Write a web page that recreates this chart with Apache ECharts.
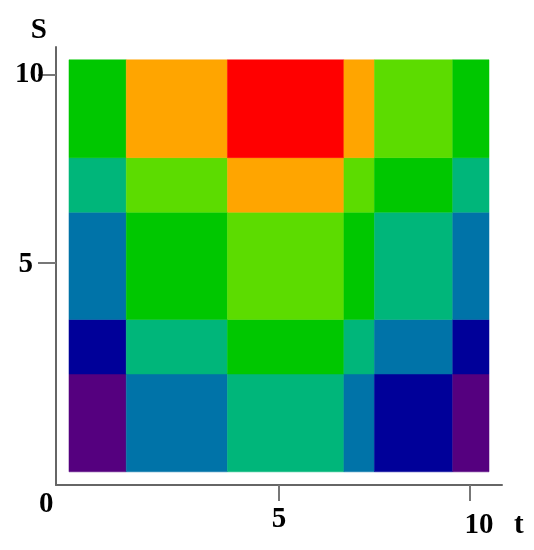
<!DOCTYPE html>
<html>
<head>
<meta charset="utf-8">
<script src="https://cdn.jsdelivr.net/npm/echarts@6/dist/echarts.min.js"></script>
<style>html,body{margin:0;padding:0;background:#fff}#c{width:534px;height:550px}</style>
</head>
<body>
<div id="c"></div>
<script>
// cell edges along t (x) and S (y)
var tEdges = [-0.5, 1, 3.65, 6.7, 7.5, 9.55, 10.5];
var sEdges = [-0.55, 2.05, 3.5, 6.35, 7.8, 10.4];
// level of each cell, rows from bottom (low S) to top
var levels = [
  [0, 2, 3, 2, 1, 0],
  [1, 3, 4, 3, 2, 1],
  [2, 4, 5, 4, 3, 2],
  [3, 5, 6, 5, 4, 3],
  [4, 6, 7, 6, 5, 4]
];
var levelColors = ['#55007f', '#000099', '#0073a8', '#00b67a', '#00c700', '#5cdc00', '#ffa500', '#ff0000'];
var tTicks = [5, 10];
var sTicks = [5, 10];

var cells = [];
for (var r = 0; r < levels.length; r++) {
  for (var c = 0; c < levels[r].length; c++) {
    cells.push([tEdges[c], tEdges[c + 1], sEdges[r], sEdges[r + 1], levels[r][c]]);
  }
}
var pieces = levelColors.map(function (col, i) { return { value: i, color: col }; });

var font = 'Liberation Serif';
var txt = { fontFamily: font, fontWeight: 'bold', fontSize: 29, color: '#000' };
function withPad(p) { return Object.assign({}, txt, { padding: p }); }
var chart = echarts.init(document.getElementById('c'));
chart.setOption({
  animation: false,
  grid: { left: 56, right: 32, top: 47, bottom: 65 },
  xAxis: {
    type: 'value', min: -0.84, max: 10.84,
    splitLine: { show: false },
    axisLine: { show: true, onZero: false, lineStyle: { color: '#666', width: 2 } },
    axisTick: { show: true, customValues: tTicks, length: 16, lineStyle: { color: '#777', width: 2 } },
    axisLabel: Object.assign({}, txt, {
      customValues: tTicks, margin: 16,
      formatter: function (v) { return v === 10 ? '{ten|10}' : '{n|' + v + '}'; },
      rich: { n: withPad([4, 0, 0, 0]), ten: withPad([10, 0, 0, 18]) }
    }),
    name: 't', nameLocation: 'end', nameGap: 12,
    nameTextStyle: Object.assign({}, txt, { align: 'left', verticalAlign: 'top', padding: [26, 0, 0, 0] })
  },
  yAxis: {
    type: 'value', min: -0.9, max: 10.74,
    splitLine: { show: false },
    axisLine: { show: true, onZero: false, lineStyle: { color: '#666', width: 2 } },
    axisTick: { show: true, customValues: sTicks, length: 18, lineStyle: { color: '#777', width: 2 } },
    axisLabel: Object.assign({}, txt, {
      customValues: sTicks, margin: 12,
      formatter: function (v) { return v === 5 ? '{five|5}' : '{n|' + v + '}'; },
      rich: { n: withPad([0, 0, 0, 0]), five: withPad([4, 11, 0, 0]) }
    }),
    name: 'S', nameLocation: 'end', nameGap: 2,
    nameTextStyle: Object.assign({}, txt, { align: 'right', padding: [0, 9, 0, 0] })
  },
  visualMap: { show: false, type: 'piecewise', dimension: 4, pieces: pieces, seriesIndex: 0 },
  graphic: [{
    type: 'text', left: 39, top: 490,
    style: { text: '0', font: 'bold 29px "Liberation Serif"', fill: '#000' }
  }],
  series: [{
    type: 'custom',
    data: cells,
    encode: { x: [0, 1], y: [2, 3] },
    renderItem: function (params, api) {
      var p0 = api.coord([api.value(0), api.value(3)]);
      var p1 = api.coord([api.value(1), api.value(2)]);
      return {
        type: 'rect',
        shape: { x: p0[0], y: p0[1], width: p1[0] - p0[0], height: p1[1] - p0[1] },
        style: { fill: api.visual('color'), stroke: api.visual('color'), lineWidth: 0.5 }
      };
    }
  }]
});
</script>
</body>
</html>
